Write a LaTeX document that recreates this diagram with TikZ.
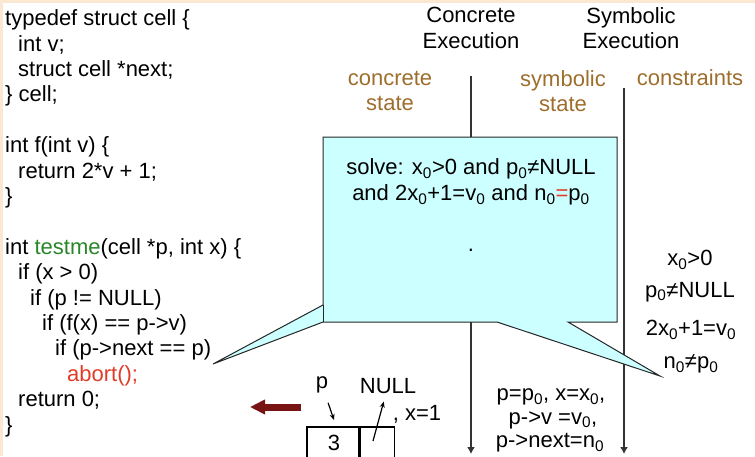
\documentclass[tikz,border=0pt]{standalone}
\usepackage{fontspec}
\setmainfont{Liberation Sans}
\usetikzlibrary{arrows.meta, positioning}

\definecolor{paper}{RGB}{250,232,208}
\definecolor{statebrown}{RGB}{158,110,45}
\definecolor{callcyan}{RGB}{204,255,255}
\definecolor{codegreen}{RGB}{40,135,40}
\definecolor{codered}{RGB}{225,60,40}
\definecolor{darkarrow}{RGB}{120,20,20}
\newcommand{\zs}{\textsubscript{0}}

\begin{document}
\begin{tikzpicture}[x=1pt, y=-1pt,
  font=\fontsize{22}{25.4}\selectfont,
  lbl/.style={inner sep=0pt, align=center},
  statelbl/.style={lbl, text=statebrown},
  timeline/.style={line width=1.4pt, draw=black!80, -{Latex[length=7pt,width=8pt]}},
  ptr/.style={line width=1.2pt, -{Stealth[length=6pt,width=5pt]}},
  cellbox/.style={draw, line width=1.4pt, minimum height=42pt, inner sep=0pt}
]
% paper with the thin beige edge
\fill[paper] (0,0) rectangle (755,456);
\fill[white] (3,3) rectangle (755,456);
\useasboundingbox (0,0) rectangle (755,456);

% the program
\node[anchor=north west, align=left, inner sep=0pt] (code) at (5,9.5) {%
typedef struct cell \{\\
\hspace*{13pt}int v;\\
\hspace*{13pt}struct cell *next;\\
\} cell;\\[25.4pt]
int f(int v) \{\\
\hspace*{13pt}return 2*v + 1;\\
\}\\[25.4pt]
int \textcolor{codegreen}{testme}(cell *p, int x) \{\\
\hspace*{13pt}if (x > 0)\\
\hspace*{25pt}if (p != NULL)\\
\hspace*{37pt}if (f(x) == p->v)\\
\hspace*{50pt}if (p->next == p)\\
\hspace*{62pt}\textcolor{codered}{abort();}\\
\hspace*{13pt}return 0;\\
\}};

% column headings
\node[lbl] (conc) at (471,28) {Concrete\\Execution};
\node[lbl] (symb) at (631,28) {Symbolic\\Execution};
\node[statelbl] (cstate) at (390,91) {concrete\\state};
\node[statelbl] (sstate) at (563,91) {symbolic\\state};
\node[statelbl] (cons) at (690,78) {constraints};

% time lines
\coordinate (ctop) at (471,76);
\coordinate (cbot) at (471,454);
\coordinate (stop) at (624,88);
\coordinate (sbot) at (624,454);
\draw[timeline] (ctop) -- (cbot);
\draw[timeline] (stop) -- (sbot);

% callout with two tails
\coordinate (bnw) at (323,137);
\coordinate (bne) at (617,137);
\coordinate (bse) at (617,322);
\coordinate (bsw) at (323,322);
\coordinate (tipL) at (213,364);
\coordinate (tipR) at (660,376);
\filldraw[fill=callcyan, draw=black!85, line width=1pt]
  (bnw) -- (bne) -- (bse) -- (568,322) -- (tipR) -- (497,322)
  -- (bsw) -- (tipL) -- (323,305) -- cycle;
\draw[black!85, line width=1pt] (bsw) -- (323,305);
\node[lbl] (solve) at (471,182)
  {solve: x\zs>0 and p\zs≠NULL\\and 2x\zs+1=v\zs{} and n\zs\textcolor{codered}{=}p\zs};
\node[lbl] (dot) at (471,250) {.};

% constraints
\node[lbl] (c1) at (690,260) {x\zs>0};
\node[lbl] (c2) at (690,292) {p\zs≠NULL};
\node[lbl] (c3) at (691,330) {2x\zs+1=v\zs};
\node[lbl] (c4) at (691,364) {n\zs≠p\zs};

% symbolic state
\node[lbl] (s1) at (551,397) {p=p\zs, x=x\zs,};
\node[lbl] (s2) at (553,420) {p->v =v\zs,};
\node[lbl] (s3) at (550,443) {p->next=n\zs};

% concrete state
\node[cellbox, minimum width=52pt] (cellv) at (333,448) {};
\node[cellbox, minimum width=34pt, right=0pt of cellv] (cellnext) {};
\node[lbl] (val) at (334,443) {3};
\node[lbl] (plbl) at (322,385) {p};
\node[lbl] (nulllbl) at (388,386) {NULL};
\node[lbl] (xval) at (417,414) {, x=1};
\coordinate (ptip) at (334,420);
\coordinate (nstart) at (373,441);
\draw[ptr, shorten <=10pt] (plbl) -- (ptip);
\draw[ptr, shorten >=8pt] (nstart) -- (nulllbl);

% back to the program
\coordinate (redA) at (301,407);
\coordinate (redB) at (250,407);
\draw[darkarrow, line width=7pt, -{Triangle[length=15pt 0, width=14pt 0]}] (redA) -- (redB);
\end{tikzpicture}
\end{document}
